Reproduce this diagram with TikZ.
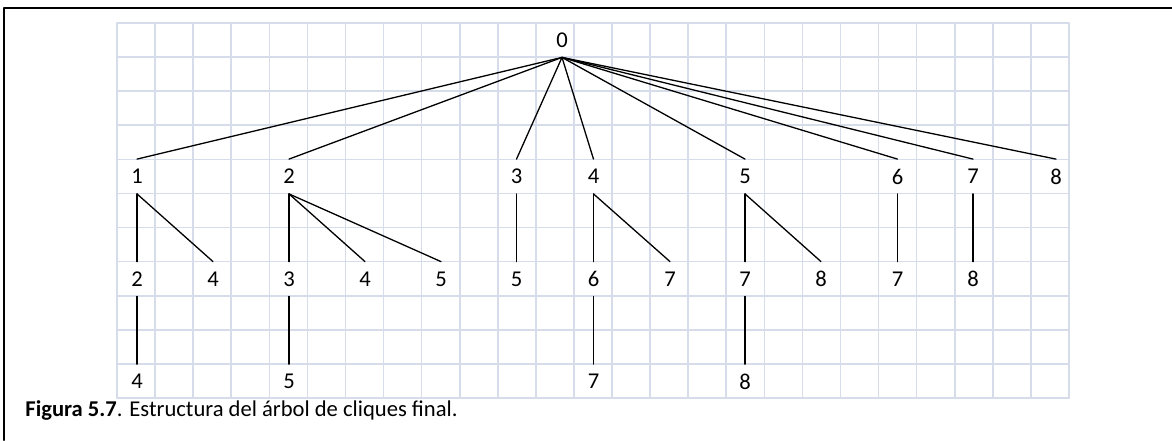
\documentclass[tikz,border=0pt]{standalone}
\usepackage{fontspec}
\setmainfont{Carlito}
\definecolor{gridblue}{RGB}{214,220,234}
\tikzset{
  cell/.style={minimum height=17pt, inner sep=0pt, text=black, font=\fontsize{11.3}{13}\selectfont},
  edge/.style={line width=0.65pt}
}
\begin{document}
\begin{tikzpicture}[x=0.5pt,y=-0.5pt, line join=round, line cap=round]
			\useasboundingbox (0,0) rectangle (1172,440);
			\draw[line width=1pt] (4,440)--(4,8)--(1172,8);
			\foreach \i in {0,...,25} \draw[gridblue,line width=0.8pt] ({117+38.08*\i},23)--({117+38.08*\i},398);
			\foreach \j in {0,...,11} \draw[gridblue,line width=0.8pt] (117,{23+34.09*\j})--(1069,{23+34.09*\j});
			\node[cell] (n0) at (562,40) {0};
			\node[cell] (a1) at (137,176.5) {1};
			\node[cell] (a2) at (289,176.5) {2};
			\node[cell] (a3) at (516.5,176.5) {3};
			\node[cell] (a4) at (593.5,176.5) {4};
			\node[cell] (a5) at (745,176.5) {5};
			\node[cell] (a6) at (897.5,176.5) {6};
			\node[cell] (a7) at (973,176.5) {7};
			\node[cell] (a8) at (1056,176.5) {8};
			\node[cell] (b1) at (137,279) {2};
			\node[cell] (b2) at (213,279) {4};
			\node[cell] (b3) at (289,279) {3};
			\node[cell] (b4) at (365,279) {4};
			\node[cell] (b5) at (441,279) {5};
			\node[cell] (b6) at (516.5,279) {5};
			\node[cell] (b7) at (593.5,279) {6};
			\node[cell] (b8) at (670,279) {7};
			\node[cell] (b9) at (745,279) {7};
			\node[cell] (b10) at (821,279) {8};
			\node[cell] (b11) at (897.5,279) {7};
			\node[cell] (b12) at (973,279) {8};
			\node[cell] (c1) at (137,381.5) {4};
			\node[cell] (c2) at (289,381.5) {5};
			\node[cell] (c3) at (593.5,381.5) {7};
			\node[cell] (c4) at (745,381.5) {8};
			\foreach \k in {a1,a2,a3,a4,a5,a6,a7,a8} \draw[edge] (n0.south)--(\k.north);
			\draw[edge] (a1.south)--(b1.north);
			\draw[edge] (a1.south)--(b2.north);
			\draw[edge] (a2.south)--(b3.north);
			\draw[edge] (a2.south)--(b4.north);
			\draw[edge] (a2.south)--(b5.north);
			\draw[edge] (a3.south)--(b6.north);
			\draw[edge] (a4.south)--(b7.north);
			\draw[edge] (a4.south)--(b8.north);
			\draw[edge] (a5.south)--(b9.north);
			\draw[edge] (a5.south)--(b10.north);
			\draw[edge] (a6.south)--(b11.north);
			\draw[edge] (a7.south)--(b12.north);
			\draw[edge] (b1.south)--(c1.north);
			\draw[edge] (b3.south)--(c2.north);
			\draw[edge] (b7.south)--(c3.north);
			\draw[edge] (b9.south)--(c4.north);
			\node[anchor=base west, inner sep=0pt, font=\fontsize{11.3}{13}\selectfont] (cap) at (25,416) {\textbf{Figura 5.7}. Estructura del árbol de cliques final.};
\end{tikzpicture}
\end{document}
